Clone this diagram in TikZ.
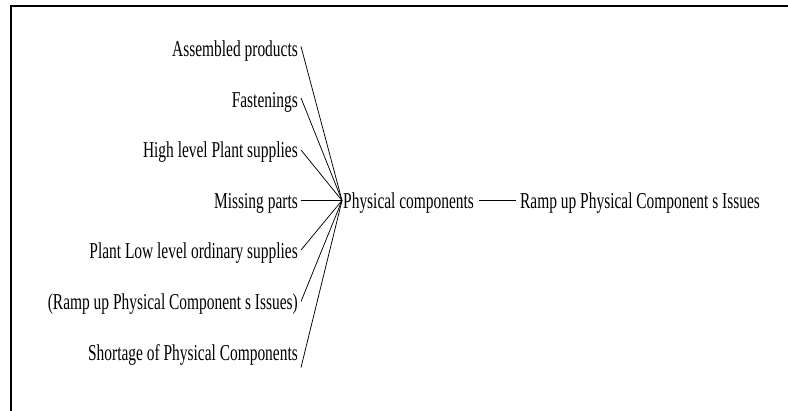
\documentclass[tikz,border=0pt]{standalone}
\usepackage{fontspec}
\setmainfont{Liberation Serif}[FakeStretch=0.68]
\usetikzlibrary{calc}
\begin{document}
\begin{tikzpicture}[x=1pt,y=1pt,
  lbl/.style={inner sep=0pt, font=\fontsize{22.7}{27}\selectfont},
  conn/.style={line width=0.75pt},
  frame/.style={line width=2pt}]
\useasboundingbox (0,0) rectangle (788,-411);
\draw[frame] (788,-6) -- (11,-6) -- (11,-411);
\node[lbl, anchor=base east] (a1) at (298,-57) {Assembled products};
\node[lbl, anchor=base east] (a2) at (298,-107.5) {Fastenings};
\node[lbl, anchor=base east] (a3) at (298,-158) {High level Plant supplies};
\node[lbl, anchor=base east] (a4) at (298,-208.5) {Missing parts};
\node[lbl, anchor=base east] (a5) at (298,-259) {Plant Low level ordinary supplies};
\node[lbl, anchor=base east] (a6) at (298,-309.5) {(Ramp up Physical Component s Issues)};
\node[lbl, anchor=base east] (a7) at (298,-360.5) {Shortage of Physical Components};
\node[lbl, anchor=base west] (pc) at (343,-208.5) {Physical components};
\node[lbl, anchor=base west] (ru) at (520,-208.5) {Ramp up Physical Component s Issues};
\coordinate (hub) at ($(pc.base west)+(-1,8)$);
\draw[conn] ($(a1.base east)+(3,10.5)$) -- (hub);
\draw[conn] ($(a2.base east)+(3,9.5)$) -- (hub);
\draw[conn] ($(a3.base east)+(3,8)$) -- (hub);
\draw[conn] ($(a4.base east)+(3,8)$) -- (hub);
\draw[conn] ($(a5.base east)+(3,9)$) -- (hub);
\draw[conn] ($(a6.base east)+(3,8)$) -- (hub);
\draw[conn] ($(a7.base east)+(3,-7)$) -- (hub);
\draw[conn] ($(pc.base east)+(5,8)$) -- ($(ru.base west)+(-4,8)$);
\end{tikzpicture}
\end{document}
